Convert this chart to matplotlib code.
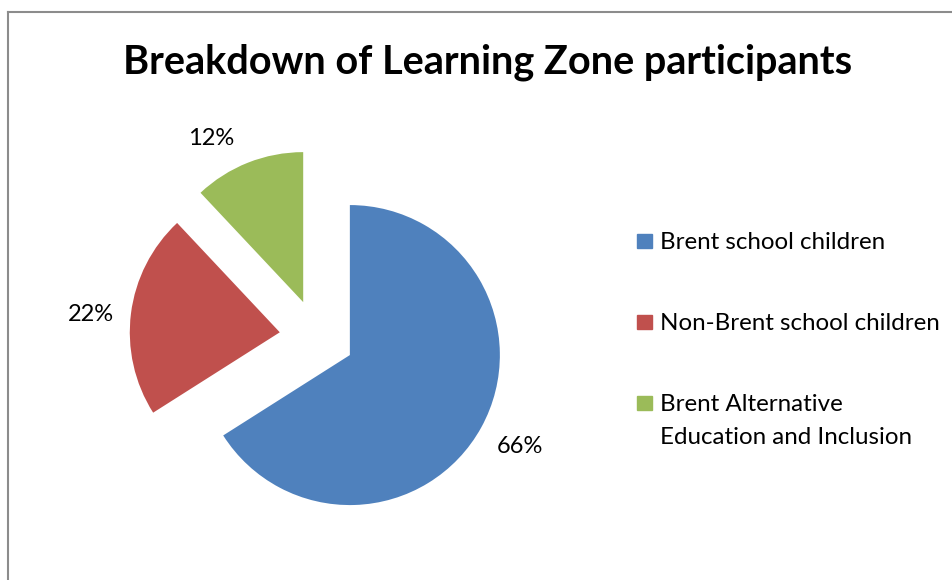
import matplotlib.pyplot as plt
from matplotlib.lines import Line2D
from matplotlib.patches import Rectangle

plt.rcParams['font.family'] = ['Lato', 'DejaVu Sans']

categories = ['Brent school children', 'Non-Brent school children',
              'Brent Alternative\nEducation and Inclusion']
shares = [66, 22, 12]
colours = ['#4F81BD', '#C0504D', '#9BBB59']

W, H = 953, 580
fig = plt.figure(figsize=(W / 100, H / 100), dpi=100)

def fx(px):
    return px / W

def fy(py):
    return 1 - py / H

# pie centre at (317, 337) px, radius 150 px
ax = fig.add_axes([fx(17), fy(577), 600 / W, 480 / H])
wedges, texts, autotexts = ax.pie(shares, colors=colours, startangle=90,
                                  counterclock=False, explode=[0.25] * 3,
                                  autopct='%.0f%%', pctdistance=1.27,
                                  wedgeprops=dict(linewidth=0),
                                  textprops=dict(fontsize=17, color='black'))
ax.set_xlim(-2.0, 2.0)
ax.set_ylim(-1.6, 1.6)

# small nudges so the labels sit where Excel puts them
nudge = [(0.02, 0.0), (0.0, -0.04), (-0.145, -0.09)]
for t, (dx, dy) in zip(autotexts, nudge):
    x, y = t.get_position()
    t.set_position((x + dx, y + dy))

fig.text(fx(488), fy(62), 'Breakdown of Learning Zone participants',
         ha='center', va='center', fontsize=28.5, fontweight='bold')

# legend drawn by hand so the marker sits on the first line
ys = [241, 322, 403]
for lab, col, y in zip(categories, colours, ys):
    fig.add_artist(Rectangle((fx(637), fy(y + 7)), 15 / W, 14 / H,
                             transform=fig.transFigure, color=col))
    for k, line in enumerate(lab.split('\n')):
        fig.text(fx(660), fy(y + 8 + 33 * k), line, ha='left', va='baseline',
                 fontsize=17.4)

# chart border (cut off at right and bottom)
fig.add_artist(Line2D([fx(8), fx(8)], [fy(12), 0], color='#8c8c8c', lw=1.5))
fig.add_artist(Line2D([fx(8), 1], [fy(12), fy(12)], color='#8c8c8c', lw=1.5))

fig.savefig('out.png', dpi=100)
